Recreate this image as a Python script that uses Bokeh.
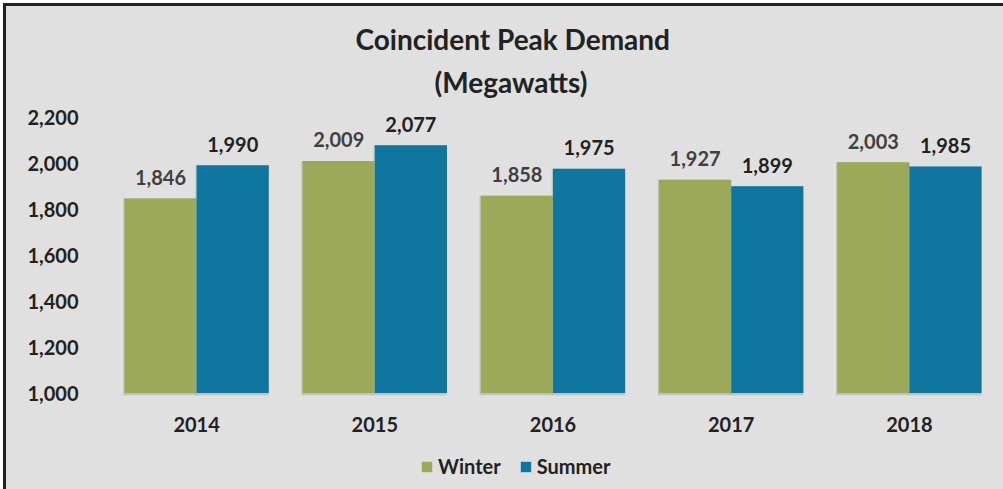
from bokeh.plotting import figure
from bokeh.layouts import column
from bokeh.models import (FactorRange, ColumnDataSource, Range1d, Title, Legend,
                          LegendItem, NumeralTickFormatter)
from bokeh.transform import dodge
from bokeh.embed import file_html
from bokeh.resources import INLINE
from bokeh.core.properties import value

years = ["2014", "2015", "2016", "2017", "2018"]
winter = [1846, 2009, 1858, 1927, 2003]
summer = [1990, 2077, 1975, 1899, 1985]
y_ticks = [1000, 1200, 1400, 1600, 1800, 2000, 2200]
title_lines = ["Coincident Peak Demand", "(Megawatts)"]
series_names = ["Winter", "Summer"]

WIN_C = "#9BA958"
SUM_C = "#0E769F"
BG = "#E0E0E0"
FONT = "Lato"
BASE = 1000

src = ColumnDataSource(dict(
    year=years, winter=winter, summer=summer,
    winter_lbl=[f"{v:,}" for v in winter],
    summer_lbl=[f"{v:,}" for v in summer],
))

p = figure(x_range=FactorRange(*years), y_range=Range1d(985, 2250),
           width=997, height=439, output_backend="svg", toolbar_location=None,
           min_border_left=101, min_border_top=99, min_border_bottom=49,
           min_border_right=5)
p.background_fill_color = BG
p.border_fill_color = BG
p.outline_line_color = None
p.xgrid.grid_line_color = None
p.ygrid.grid_line_color = None

bw = 0.405
off = 0.2025
# soft shadow under bars
for xo, col in ((-off, "winter"), (off, "summer")):
    p.vbar(x=dodge("year", xo - 0.004, range=p.x_range), top=col, bottom=BASE - 10,
           width=bw + 0.006, source=src, fill_color="#A9A9A9", fill_alpha=0.55,
           line_color=None)
p.vbar(x=dodge("year", -off, range=p.x_range), top="winter", bottom=BASE,
       width=bw, source=src, fill_color=WIN_C, line_color=None)
p.vbar(x=dodge("year", off, range=p.x_range), top="summer", bottom=BASE,
       width=bw, source=src, fill_color=SUM_C, line_color=None)

p.text(x=dodge("year", -off, range=p.x_range), y="winter", text="winter_lbl",
       source=src, text_align="center", text_baseline="middle", y_offset=-21,
       text_font=value(FONT), text_font_style="bold", text_font_size="20px",
       text_color="#404040")
p.text(x=dodge("year", off, range=p.x_range), y="summer", text="summer_lbl",
       source=src, text_align="center", text_baseline="middle", y_offset=-21,
       text_font=value(FONT), text_font_style="bold", text_font_size="20px",
       text_color="#222222")

for ax in (p.xaxis[0], p.yaxis[0]):
    ax.axis_line_color = None
    ax.major_tick_line_color = None
    ax.minor_tick_line_color = None
    ax.major_tick_out = 0
    ax.major_tick_in = 0
    ax.major_label_text_font = FONT
    ax.major_label_text_font_style = "bold"
    ax.major_label_text_font_size = "20px"
    ax.major_label_text_color = "#222222"

p.yaxis.ticker = y_ticks
p.yaxis.formatter = NumeralTickFormatter(format="0,0")
p.yaxis.major_label_standoff = 29
p.xaxis.major_label_standoff = 20

p.add_layout(Title(text=title_lines[1], align="left", offset=327,
                   text_font=FONT, text_font_style="bold", text_font_size="28px",
                   text_color="#222222", standoff=14), "above")
p.add_layout(Title(text=title_lines[0], align="left", offset=248,
                   text_font=FONT, text_font_style="bold", text_font_size="28px",
                   text_color="#222222", standoff=0), "above")

# legend strip below the chart (frame aligned with the chart's frame)
pl = figure(width=997, height=44, output_backend="svg", toolbar_location=None,
            x_range=Range1d(0, 1), y_range=Range1d(0, 1),
            x_axis_location=None, y_axis_location=None,
            min_border_left=0, min_border_right=0, min_border_top=0,
            min_border_bottom=0)
pl.background_fill_color = BG
pl.border_fill_color = BG
pl.outline_line_color = None
pl.grid.visible = False
# off-screen swatch renderers (only their legend glyphs are seen)
lw = pl.vbar(x=[-5], top=[-5], bottom=[-6], width=0.1, fill_color=WIN_C, line_color=None)
ls = pl.vbar(x=[-5], top=[-5], bottom=[-6], width=0.1, fill_color=SUM_C, line_color=None)
legend = Legend(items=[LegendItem(label=series_names[0], renderers=[lw]),
                       LegendItem(label=series_names[1], renderers=[ls])],
                location=(313, 11), orientation="horizontal",
                glyph_width=13, glyph_height=13, label_standoff=5, spacing=18,
                padding=0, margin=0, label_height=18,
                label_text_font=FONT, label_text_font_style="bold",
                label_text_font_size="20px", label_text_color="#222222",
                background_fill_alpha=0, border_line_alpha=0)
pl.add_layout(legend)

layout = column(p, pl, spacing=0)
layout.styles = {"border-top": "3px solid #222222", "border-left": "3px solid #222222",
                 "margin-top": "3px", "margin-left": "3px",
                 "background-color": BG}

open("out.html", "w").write(file_html(layout, INLINE))
